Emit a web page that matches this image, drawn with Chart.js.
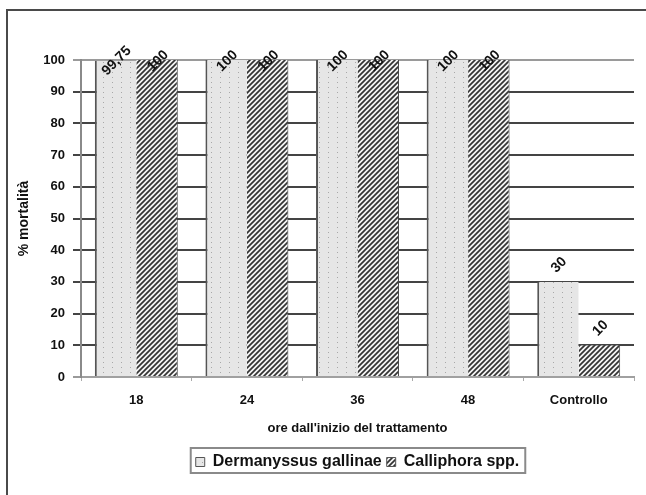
<!DOCTYPE html>
<html>
<head>
<meta charset="utf-8">
<script src="https://cdn.jsdelivr.net/npm/chart.js@4/dist/chart.umd.min.js"></script>
<style>
  html, body { margin: 0; padding: 0; background: #fff; }
  #wrap { width: 646px; height: 495px; position: relative; }
</style>
</head>
<body>
<div id="wrap"><canvas id="c"></canvas></div>
<script>
const categories = ["18", "24", "36", "48", "Controllo"];
const dermanyssus = [99.75, 100, 100, 100, 30];
const calliphora = [100, 100, 100, 100, 10];
const seriesNames = ["Dermanyssus gallinae", "Calliphora spp."];
const yTicks = [0, 10, 20, 30, 40, 50, 60, 70, 80, 90, 100];
const xTitle = "ore dall'inizio del trattamento";
const yTitle = "% mortalità";

const FONT = "'Liberation Sans', Arial, sans-serif";

function dotPattern() {
  const c = document.createElement('canvas');
  c.width = 9; c.height = 5;
  const g = c.getContext('2d');
  g.fillStyle = '#e6e6e6'; g.fillRect(0, 0, 9, 5);
  g.fillStyle = '#a8a8a8'; g.fillRect(4, 2, 1, 1);
  return g.createPattern(c, 'repeat');
}
function hatchPattern() {
  const s = 5;
  const c = document.createElement('canvas');
  c.width = s; c.height = s;
  const g = c.getContext('2d');
  g.fillStyle = '#f4f4f4'; g.fillRect(0, 0, s, s);
  g.strokeStyle = '#333333'; g.lineWidth = 1.7;
  g.beginPath();
  g.moveTo(-1, s + 1); g.lineTo(s + 1, -1);
  g.moveTo(-1, 1); g.lineTo(1, -1);
  g.moveTo(s - 1, s + 1); g.lineTo(s + 1, s - 1);
  g.stroke();
  return g.createPattern(c, 'repeat');
}

const frame = {
  id: 'frame',
  beforeDraw(chart) {
    const ctx = chart.ctx;
    ctx.save();
    ctx.strokeStyle = '#4a4a4a';
    ctx.lineWidth = 2;
    ctx.strokeRect(7, 10, 700, 600);
    ctx.restore();
    const lg = chart.legend;
    if (lg) {
      lg.left = chart.chartArea.left;
      lg.right = chart.chartArea.right;
      lg.adjustHitBoxes();
    }
  },
  afterDraw(chart) {
    const lg = chart.legend;
    if (!lg || !lg.legendHitBoxes || !lg.legendHitBoxes.length) return;
    const hb = lg.legendHitBoxes;
    const ctx = chart.ctx;
    const x1 = hb[0].left - 5;
    const x2 = hb[hb.length - 1].left + hb[hb.length - 1].width + 6;
    ctx.save();
    ctx.strokeStyle = '#8a8a8a';
    ctx.lineWidth = 2;
    ctx.strokeRect(x1, lg.top - 1, x2 - x1, 25);
    ctx.restore();
  }
};

const dataLabels = {
  id: 'dataLabels',
  afterDatasetsDraw(chart) {
    const ctx = chart.ctx;
    const top = chart.chartArea.top;
    ctx.save();
    ctx.font = 'bold 14px ' + FONT;
    ctx.fillStyle = '#111';
    ctx.textAlign = 'center';
    ctx.textBaseline = 'middle';
    chart.data.datasets.forEach((ds, di) => {
      const meta = chart.getDatasetMeta(di);
      meta.data.forEach((el, i) => {
        const txt = String(ds.data[i]).replace('.', ',');
        const y = Math.max(el.y - 17, top + 1);
        ctx.save();
        ctx.translate(el.x + 1, y);
        ctx.rotate(-Math.PI / 4);
        ctx.fillText(txt, 0, 0);
        ctx.restore();
      });
    });
    ctx.restore();
  }
};

const ctx = document.getElementById('c').getContext('2d');
new Chart(ctx, {
  type: 'bar',
  data: {
    labels: categories,
    datasets: [
      {
        label: seriesNames[0],
        data: dermanyssus,
        backgroundColor: dotPattern(),
        borderColor: '#555',
        borderWidth: { left: 2, right: 0, top: 0, bottom: 0 },
        borderSkipped: false,
        categoryPercentage: 0.75,
        barPercentage: 1.0
      },
      {
        label: seriesNames[1],
        data: calliphora,
        backgroundColor: hatchPattern(),
        borderColor: '#444',
        borderWidth: { left: 0, right: 1, top: 0, bottom: 0 },
        borderSkipped: false,
        categoryPercentage: 0.75,
        barPercentage: 1.0
      }
    ]
  },
  options: {
    responsive: true,
    maintainAspectRatio: false,
    animation: false,
    devicePixelRatio: 1,
    layout: { padding: { left: 0, top: 60, right: 12, bottom: 15 } },
    plugins: {
      title: { display: false },
      tooltip: { enabled: false },
      legend: {
        position: 'bottom',
        align: 'center',
        labels: {
          font: { family: FONT, size: 16, weight: 'bold' },
          color: '#111',
          boxWidth: 9,
          boxHeight: 9,
          padding: 5,
          generateLabels(chart) {
            const items = Chart.defaults.plugins.legend.labels.generateLabels(chart);
            items.forEach(it => { it.lineWidth = 1; it.strokeStyle = '#555'; });
            return items;
          }
        }
      }
    },
    scales: {
      x: {
        type: 'category',
        offset: true,
        afterFit(s) { s.height = 72; },
        grid: {
          display: true,
          offset: true,
          drawOnChartArea: false,
          drawTicks: true,
          tickLength: 4,
          color: '#aaa',
          lineWidth: 1
        },
        border: { display: true, color: '#a0a0a0', width: 2 },
        ticks: {
          font: { family: FONT, size: 13, weight: 'bold' },
          color: '#111',
          padding: 12,
          maxRotation: 0
        },
        title: {
          display: true,
          text: xTitle,
          font: { family: FONT, size: 13, weight: 'bold' },
          color: '#111',
          padding: { top: 0, bottom: 13 }
        }
      },
      y: {
        min: 0,
        max: 100,
        afterFit(s) { s.width = 81; },
        afterBuildTicks(s) { s.ticks = yTicks.map(v => ({ value: v })); },
        grid: {
          display: true,
          drawTicks: true,
          tickLength: 8,
          lineWidth: 2,
          color: c => (c.tick && (c.tick.value === 0 || c.tick.value === 100)) ? '#9a9a9a' : '#444444'
        },
        border: { display: true, color: '#8a8a8a', width: 2 },
        ticks: {
          font: { family: FONT, size: 13, weight: 'bold' },
          color: '#111',
          padding: 8
        },
        title: {
          display: true,
          text: yTitle,
          font: { family: FONT, size: 14, weight: 'bold' },
          color: '#111',
          padding: { top: 16, bottom: 0 }
        }
      }
    }
  },
  plugins: [frame, dataLabels]
});
</script>
</body>
</html>
